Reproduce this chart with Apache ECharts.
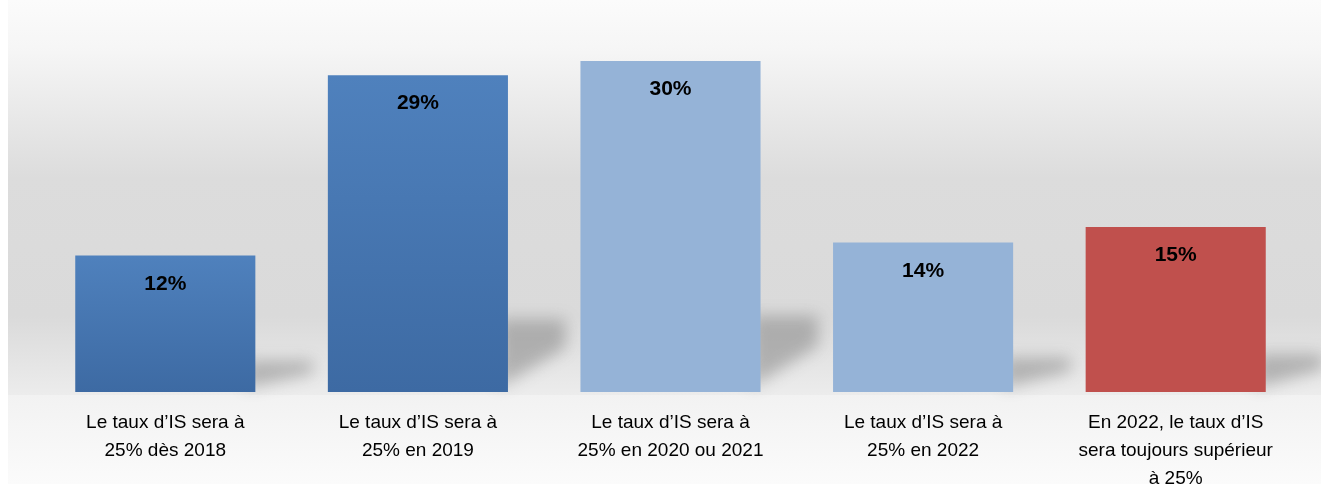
<!DOCTYPE html>
<html>
<head>
<meta charset="utf-8">
<script src="https://cdn.jsdelivr.net/npm/echarts@6/dist/echarts.min.js"></script>
<style>
  html, body { margin: 0; padding: 0; background: #fff; }
  #chart { width: 1321px; height: 484px; }
</style>
</head>
<body>
<div id="chart"></div>
<script>
// categories (axis labels, with the line breaks of the original)
let categories = [
    'Le taux d\u2019IS sera à\n25% dès 2018',
    'Le taux d\u2019IS sera à\n25% en 2019',
    'Le taux d\u2019IS sera à\n25% en 2020 ou 2021',
    'Le taux d\u2019IS sera à\n25% en 2022',
    'En 2022, le taux d\u2019IS\nsera toujours supérieur\nà 25%'
];
// bar heights (percent)
let values = [12.4, 28.8, 30.1, 13.6, 15.0];
// printed labels
let valueLabels = ['12%', '29%', '30%', '14%', '15%'];
// fill per bar
let barColors = [
    ['#4f81bd', '#3d6aa3'],
    ['#4f81bd', '#3d6aa3'],
    ['#95b3d7', '#95b3d7'],
    ['#95b3d7', '#95b3d7'],
    ['#c0504d', '#c0504d']
];

const FONT = '"Liberation Sans", Arial, sans-serif';
const SHIFT = 2000; // shadow shape is drawn off screen, only its blur is shown

let chart = echarts.init(document.getElementById('chart'));

let gradient = function (c) {
    return new echarts.graphic.LinearGradient(0, 0, 0, 1, [
        { offset: 0, color: c[0] },
        { offset: 1, color: c[1] }
    ]);
};

// soft shadow thrown to the right of each bar
let renderShadow = function (params, api) {
    let idx = api.value(0);
    let base = api.coord([idx, 0]);
    let top = api.coord([idx, api.value(1)]);
    let size = api.size([1, 0]);
    let barW = size[0] * 0.713;
    let right = base[0] + barW / 2 - SHIFT;
    let h = base[1] - top[1];
    let sw = barW * 0.32;
    return {
        type: 'polygon',
        shape: {
            points: [
                [right - 10, base[1] - h * 0.23],
                [right + sw, base[1] - h * 0.23],
                [right + sw, base[1] - h * 0.14],
                [right - 10, base[1] - 4]
            ]
        },
        style: {
            fill: '#000',
            shadowBlur: 16,
            shadowOffsetX: SHIFT,
            shadowColor: 'rgba(120,120,120,0.48)'
        }
    };
};

let option = {
    animation: false,
    graphic: [
        {
            type: 'rect',
            z: -10,
            shape: { x: 8, y: 0, width: 1313, height: 395 },
            style: {
                fill: new echarts.graphic.LinearGradient(0, 0, 0, 1, [
                    { offset: 0, color: '#fbfbfb' },
                    { offset: 0.12, color: '#f6f6f6' },
                    { offset: 0.45, color: '#dcdcdc' },
                    { offset: 0.8, color: '#dadada' },
                    { offset: 1, color: '#ececec' }
                ])
            }
        },
        {
            type: 'rect',
            z: -10,
            shape: { x: 8, y: 395, width: 1313, height: 89 },
            style: {
                fill: new echarts.graphic.LinearGradient(0, 0, 0, 1, [
                    { offset: 0, color: '#f2f2f2' },
                    { offset: 1, color: '#fbfbfb' }
                ])
            }
        }
    ],
    grid: { left: 39, right: 19, top: 7, bottom: 92, outerBoundsMode: 'none' },
    xAxis: {
        type: 'category',
        data: categories,
        axisLine: { show: false },
        axisTick: { show: false },
        axisLabel: {
            interval: 0,
            margin: 17,
            fontFamily: FONT,
            fontSize: 19,
            lineHeight: 28,
            color: '#000'
        }
    },
    yAxis: {
        type: 'value',
        min: 0,
        max: 35,
        show: false,
        splitLine: { show: false }
    },
    series: [
        {
            type: 'custom',
            renderItem: renderShadow,
            clip: false,
            data: values.map(function (v, i) { return [i, v]; }),
            z: 1,
            silent: true
        },
        {
            type: 'bar',
            barWidth: '71.3%',
            z: 2,
            data: values.map(function (v, i) {
                return { value: v, itemStyle: { color: gradient(barColors[i]) } };
            }),
            label: {
                show: true,
                position: 'insideTop',
                distance: 18,
                fontFamily: FONT,
                fontWeight: 'bold',
                fontSize: 21,
                color: '#000',
                formatter: function (p) { return valueLabels[p.dataIndex]; }
            }
        }
    ]
};

chart.setOption(option);
</script>
</body>
</html>
